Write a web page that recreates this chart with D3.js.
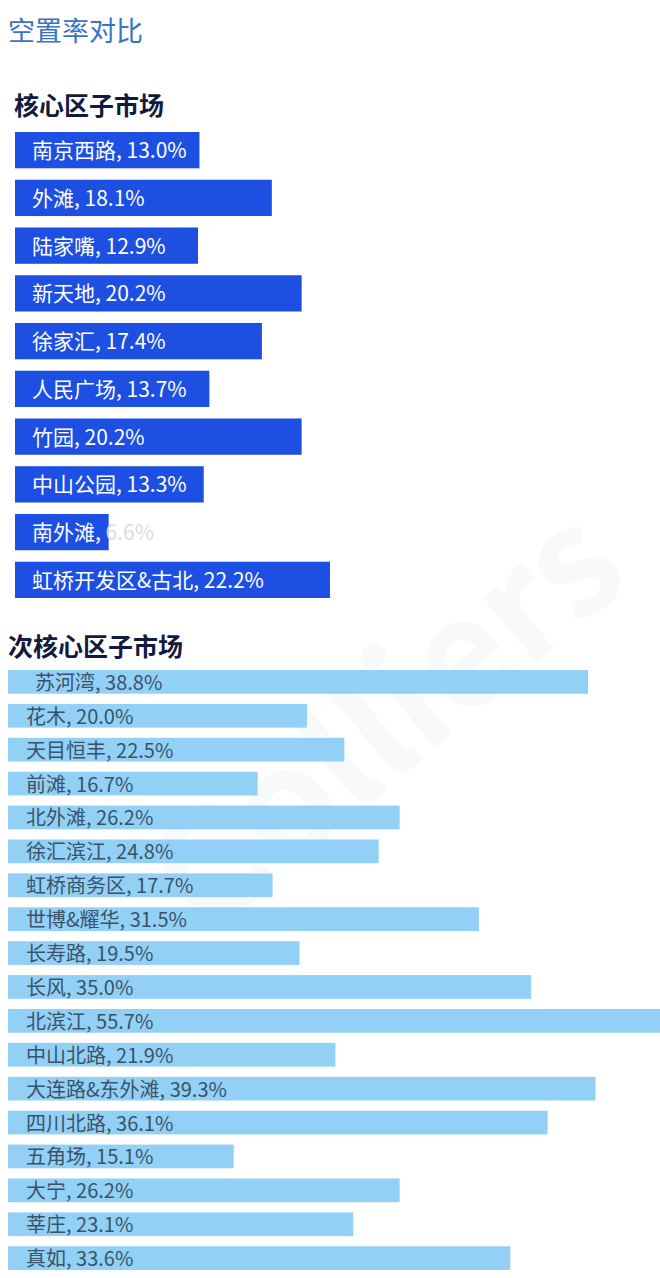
<!DOCTYPE html><html><head><meta charset="utf-8"><script src="https://cdn.jsdelivr.net/npm/d3@7"></script>
<style>body{margin:0;background:#fff;overflow:hidden}</style></head><body><svg id="c" width="660" height="1278"></svg>
<script>
const coreNames=["南京西路","外滩","陆家嘴","新天地","徐家汇","人民广场","竹园","中山公园","南外滩","虹桥开发区&古北"];
const coreValues=[13.0,18.1,12.9,20.2,17.4,13.7,20.2,13.3,6.6,22.2];
const subNames=["苏河湾","花木","天目恒丰","前滩","北外滩","徐汇滨江","虹桥商务区","世博&耀华","长寿路","长风","北滨江","中山北路","大连路&东外滩","四川北路","五角场","大宁","莘庄","真如"];
const subValues=[38.8,20.0,22.5,16.7,26.2,24.8,17.7,31.5,19.5,35.0,55.7,21.9,39.3,36.1,15.1,26.2,23.1,33.6];
const font="'Noto Sans CJK SC','Noto Sans',sans-serif";
const svg=d3.select("#c");
svg.append("text").attr("x",8).attr("y",41).attr("font-family",font).attr("font-size",27).attr("fill","#3a72c8").text("空置率对比");
svg.append("text").attr("x",14).attr("y",115).attr("font-family",font).attr("font-size",25).attr("font-weight","bold").attr("fill","#121a3e").text("核心区子市场");
svg.append("text").attr("x",8).attr("y",656).attr("font-family",font).attr("font-size",25).attr("font-weight","bold").attr("fill","#121a3e").text("次核心区子市场");
svg.append("text").attr("transform","translate(420,760) rotate(-40)").attr("text-anchor","middle").attr("font-family",font).attr("font-size",150).attr("font-weight","bold").attr("fill","#f1f4f8").attr("opacity",0.5).text("Colliers");
const xc=d3.scaleLinear().domain([0,22.2]).range([0,315]);
const yc=d3.scaleBand().domain(coreNames).range([132,598]).paddingInner(0.24);
const gc=svg.append("g");
coreNames.forEach((n,i)=>{
 gc.append("rect").attr("x",15).attr("y",yc(n)).attr("width",xc(coreValues[i])).attr("height",yc.bandwidth()).attr("fill","#1d4fe2");
 const t=gc.append("text").attr("x",32).attr("y",yc(n)+yc.bandwidth()/2+8).attr("font-family",font).attr("font-size",21).attr("fill","#fff");
 if(n==="南外滩"){t.append("tspan").text(n+", ");t.append("tspan").attr("fill","#d8dce4").text(coreValues[i].toFixed(1)+"%");}
 else t.text(n+", "+coreValues[i].toFixed(1)+"%");
});
const xs=d3.scaleLinear().domain([0,38.8]).range([0,580]);
const ys=d3.scaleBand().domain(subNames).range([670,1270]).paddingInner(0.3);
const gs=svg.append("g");
subNames.forEach((n,i)=>{
 gs.append("rect").attr("x",8).attr("y",ys(n)).attr("width",xs(subValues[i])).attr("height",ys.bandwidth()).attr("fill","#92d0f6");
 gs.append("text").attr("x",i===0?35:26).attr("y",ys(n)+ys.bandwidth()/2+8).attr("font-family",font).attr("font-size",20).attr("fill","#3b5368").text(n+", "+subValues[i].toFixed(1)+"%");
});
</script></body></html>
